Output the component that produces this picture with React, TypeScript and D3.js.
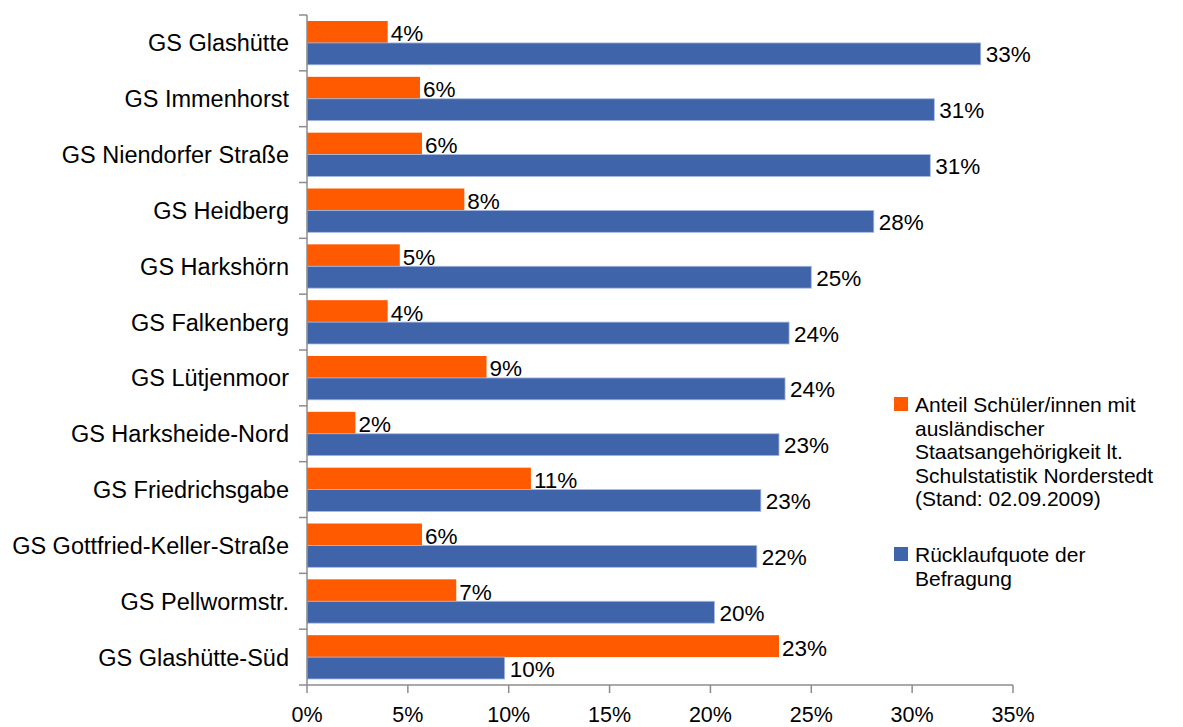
import React from "react";
import * as d3 from "d3";

const categories = [
  "GS Glashütte",
  "GS Immenhorst",
  "GS Niendorfer Straße",
  "GS Heidberg",
  "GS Harkshörn",
  "GS Falkenberg",
  "GS Lütjenmoor",
  "GS Harksheide-Nord",
  "GS Friedrichsgabe",
  "GS Gottfried-Keller-Straße",
  "GS Pellwormstr.",
  "GS Glashütte-Süd",
];
const anteil = [4.0, 5.6, 5.7, 7.8, 4.6, 4.0, 8.9, 2.4, 11.1, 5.7, 7.4, 23.4];
const ruecklauf = [33.4, 31.1, 30.9, 28.1, 25.0, 23.9, 23.7, 23.4, 22.5, 22.3, 20.2, 9.8];
const anteilLabels = ["4%", "6%", "6%", "8%", "5%", "4%", "9%", "2%", "11%", "6%", "7%", "23%"];
const ruecklaufLabels = ["33%", "31%", "31%", "28%", "25%", "24%", "24%", "23%", "23%", "22%", "20%", "10%"];
const xTicks = [0, 5, 10, 15, 20, 25, 30, 35];
const seriesNames = [
  ["Anteil Schüler/innen mit", "ausländischer", "Staatsangehörigkeit lt.", "Schulstatistik Norderstedt", "(Stand: 02.09.2009)"],
  ["Rücklaufquote der", "Befragung"],
];
const colors = ["#FF5A00", "#4064AA"];

export default function App() {
  const W = 1183, H = 727;
  const x0 = 307, x1 = 1013, yTop = 15, yBot = 685;
  const x = d3.scaleLinear().domain([0, 35]).range([x0, x1]);
  const y = d3.scaleBand().domain(categories).range([yTop, yBot]).paddingInner(0).paddingOuter(0);
  const bw = y.bandwidth();
  const pad = 6;
  const barH = (bw - 2 * pad) / 2;
  const font = "'Liberation Sans', Arial, sans-serif";
  const axisColor = "#8C8C8C";

  return (
    <svg width={W} height={H} style={{ position: "absolute", left: 0, top: 0, background: "#fff" }} fontFamily={font}>
      {categories.map((c, i) => {
        const by = y(c)!;
        return (
          <g key={c}>
            <rect x={x(0)} y={by + pad} width={x(anteil[i]) - x(0)} height={barH} fill={colors[0]} />
            <rect x={x(0)} y={by + pad + barH} width={x(ruecklauf[i]) - x(0)} height={barH} fill={colors[1]} stroke="#A9BCE0" strokeWidth={0.8} />
            <text x={x(anteil[i]) + 3} y={by + pad + barH / 2 + 9.5} fontSize={22.5} fill="#000">{anteilLabels[i]}</text>
            <text x={x(ruecklauf[i]) + 5} y={by + pad + barH * 1.5 + 8.5} fontSize={22.5} fill="#000">{ruecklaufLabels[i]}</text>
            <text x={289} y={by + bw / 2 + 8.5} fontSize={23.5} textAnchor="end" fill="#000">{c}</text>
          </g>
        );
      })}
      {/* y axis */}
      <line x1={x0} x2={x0} y1={yTop} y2={yBot} stroke={axisColor} strokeWidth={1.5} />
      {d3.range(categories.length + 1).map((i) => {
        const ty = yTop + i * bw;
        return <line key={"yt" + i} x1={x0 - 8} x2={x0} y1={ty} y2={ty} stroke={axisColor} strokeWidth={1.5} />;
      })}
      {/* x axis */}
      <line x1={x0} x2={x1} y1={yBot} y2={yBot} stroke={axisColor} strokeWidth={1.5} />
      {xTicks.map((t) => (
        <g key={"xt" + t}>
          <line x1={x(t)} x2={x(t)} y1={yBot} y2={yBot + 8} stroke={axisColor} strokeWidth={1.5} />
          <text x={x(t)} y={722} fontSize={21.5} textAnchor="middle" fill="#000">{t}%</text>
        </g>
      ))}
      {/* legend */}
      <rect x={894} y={397} width={14} height={14} fill={colors[0]} />
      {seriesNames[0].map((l, i) => (
        <text key={"l0" + i} x={915} y={412 + i * 23.5} fontSize={21} fill="#000">{l}</text>
      ))}
      <rect x={894} y={547} width={14} height={14} fill={colors[1]} />
      {seriesNames[1].map((l, i) => (
        <text key={"l1" + i} x={915} y={562 + i * 23.5} fontSize={21} fill="#000">{l}</text>
      ))}
    </svg>
  );
}
